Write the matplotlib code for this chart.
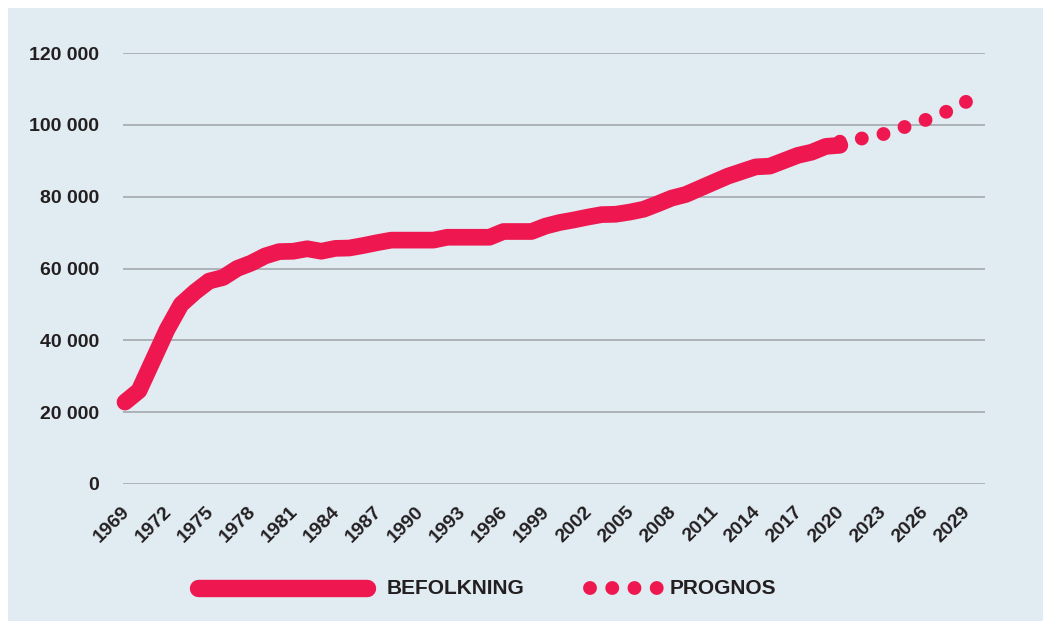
import matplotlib
matplotlib.use("Agg")
import matplotlib.pyplot as plt
import numpy as np
from matplotlib.lines import Line2D
from matplotlib.patches import Rectangle
import matplotlib.transforms as mtransforms

# ---- data ----
years = list(range(1969, 2021))
population = [
    22.8, 26.0, 34.5, 43.0, 50.0, 53.5, 56.5, 57.5, 60.0, 61.5,
    63.5, 64.7, 64.8, 65.5, 64.8, 65.6, 65.7, 66.4, 67.2, 67.9,
    67.9, 67.9, 67.9, 68.7, 68.7, 68.7, 68.7, 70.3, 70.3, 70.3,
    71.8, 72.8, 73.5, 74.3, 75.0, 75.1, 75.7, 76.5, 78.0, 79.6,
    80.6, 82.3, 84.0, 85.7, 87.0, 88.3, 88.5, 90.0, 91.5, 92.4,
    94.0, 94.3,
]
population = [v * 1000 for v in population]

prog_years = list(range(2020, 2030))
prognosis = [95.3, 95.8, 96.5, 97.3, 98.6, 99.9, 101.2, 102.7, 104.3, 106.4]
prognosis = [v * 1000 for v in prognosis]

x_ticks = list(range(1969, 2030, 3))
x_tick_labels = [str(y) for y in x_ticks]
y_ticks = [0, 20000, 40000, 60000, 80000, 100000, 120000]
y_tick_labels = ["0", "20 000", "40 000", "60 000", "80 000", "100 000", "120 000"]

legend_labels = ["BEFOLKNING", "PROGNOS"]

# ---- style ----
RED = "#EE1750"
BG = "#E0EBF2"
GRID = "#A9AEB3"
TXT = "#231F20"
W, H = 1043, 621
DOT_LW = 10
N_GAPS = 6

plt.rcParams["font.family"] = ["Liberation Sans", "DejaVu Sans"]

fig = plt.figure(figsize=(W / 100, H / 100), dpi=100)
fig.patch.set_facecolor("white")
fig.add_artist(Rectangle((8 / W, 0), 1 - 8 / W, 1 - 8 / H, transform=fig.transFigure,
                         facecolor=BG, edgecolor="none", zorder=0))

ax = fig.add_axes([123 / W, 1 - 484 / H, (985 - 123) / W, (484 - 53) / H])
ax.set_facecolor("none")
for s in ax.spines.values():
    s.set_visible(False)

ax.set_ylim(0, 120000)
ax.set_xlim(1968.857, 2030.354)

ax.set_yticks(y_ticks)
ax.set_yticklabels(y_tick_labels, fontsize=14, fontweight="bold", color=TXT)
ax.yaxis.grid(True, color=GRID, linewidth=1.3)
ax.set_axisbelow(True)
ax.tick_params(axis="y", length=0, pad=17)

ax.set_xticks(x_ticks)
ax.set_xticklabels(x_tick_labels, fontsize=14, fontweight="bold", color=TXT,
                   rotation=45, ha="right", va="top", rotation_mode="anchor")
ax.tick_params(axis="x", length=0, pad=14)
offset = mtransforms.ScaledTranslation(-3 / 72, 0, fig.dpi_scale_trans)
for lbl in ax.get_xticklabels():
    lbl.set_transform(lbl.get_transform() + offset)

ax.plot(years, population, color=RED, lw=12, solid_capstyle="round",
        solid_joinstyle="round", clip_on=False, zorder=3)

# dotted prognosis: spacing chosen so dots land on both ends of the path
pts = ax.transData.transform(np.column_stack([prog_years, prognosis]))
path_len_px = np.sum(np.hypot(np.diff(pts[:, 0]), np.diff(pts[:, 1])))
gap_units = (path_len_px / N_GAPS) * 72 / fig.dpi / DOT_LW - 0.002
ax.plot(prog_years, prognosis, color=RED, lw=DOT_LW, linestyle=(0, (0.001, gap_units)),
        dash_capstyle="round", clip_on=False, zorder=4)

# ---- legend (manual) ----
ly = 1 - 588 / H
fig.add_artist(Line2D([198 / W, 367 / W], [ly, ly], transform=fig.transFigure,
                      color=RED, lw=12.5, solid_capstyle="round"))
fig.text(387 / W, ly, legend_labels[0], fontsize=15, fontweight="bold", color=TXT,
         va="center", ha="left")
fig.add_artist(Line2D([590 / W, 657.5 / W], [ly, ly], transform=fig.transFigure,
                      color=RED, lw=10, linestyle=(0, (0.001, 1.6)),
                      dash_capstyle="round"))
fig.text(670 / W, ly, legend_labels[1], fontsize=15, fontweight="bold", color=TXT,
         va="center", ha="left")

fig.savefig("out.png", dpi=100, facecolor="white")
